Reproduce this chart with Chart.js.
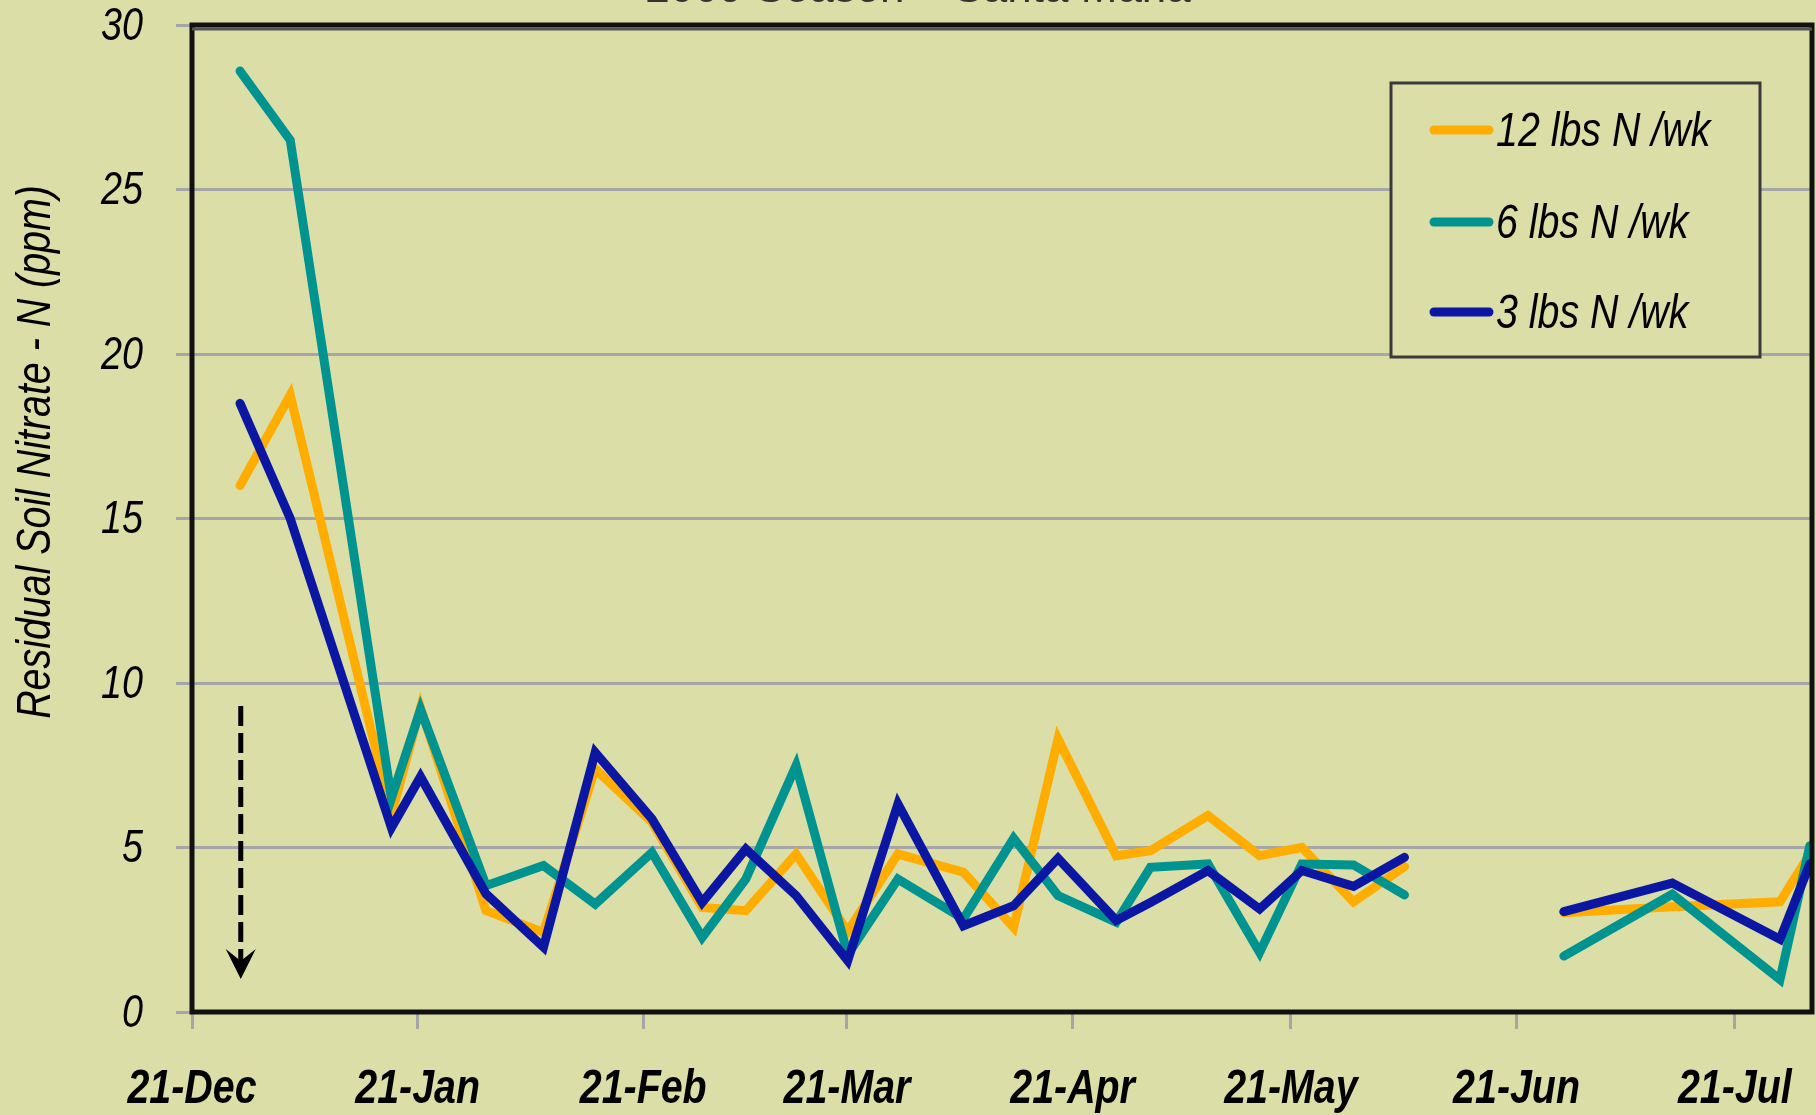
<!DOCTYPE html>
<html>
<head>
<meta charset="utf-8">
<title>Residual Soil Nitrate</title>
<script src="https://cdn.jsdelivr.net/npm/chart.js@4.4.1/dist/chart.umd.min.js"></script>
<style>
  html, body { margin:0; padding:0; background:#dbdea6; overflow:hidden; }
  #wrap { width:1816px; height:1115px; }
</style>
</head>
<body>
<div id="wrap"><canvas id="nitrateChart" width="1816" height="1115"></canvas></div>
<script>
// Residual soil nitrate - weekly samples, x = days after 21-Dec
const sampleDays = [6.6, 13.5, 27.4, 31.4, 40.4, 48.3, 55.4, 63.2, 70.1, 76.1, 83.0, 90.1,
                    97.0, 106.0, 112.9, 119.0, 127.0, 131.7, 139.6, 146.7, 152.5, 159.6, 166.6,
                    177.0, 188.5, 203.4, 218.2, 222.3];
const n12lbs = [16.0, 18.75, 6.0, 9.25, 3.08, 2.42, 7.39, 5.77, 3.18, 3.08, 4.80, 2.45,
                4.80, 4.25, 2.57, 8.30, 4.75, 4.90, 5.97, 4.75, 5.0, 3.35, 4.42,
                null, 3.02, 3.20, 3.35, 4.8];
const n6lbs  = [28.6, 26.5, 6.5, 9.2, 3.84, 4.45, 3.28, 4.85, 2.27, 4.04, 7.49, 1.75,
                4.04, 2.83, 5.28, 3.54, 2.73, 4.40, 4.50, 1.81, 4.50, 4.47, 3.56,
                null, 1.70, 3.58, 0.99, 5.05];
const n3lbs  = [18.5, 15.0, 5.6, 7.15, 3.59, 1.97, 7.89, 5.87, 3.33, 4.95, 3.54, 1.56,
                6.32, 2.62, 3.23, 4.67, 2.78, 3.33, 4.30, 3.13, 4.30, 3.82, 4.70,
                null, 3.05, 3.92, 2.21, 4.5];

const seriesNames  = ["12 lbs N /wk", "6 lbs N /wk", "3 lbs N /wk"];
const seriesColors = ["#ffad00", "#00938f", "#0b17a3"];

const tickDays   = [0, 31, 62, 90, 121, 151, 182, 212];
const tickLabels = ["21-Dec", "21-Jan", "21-Feb", "21-Mar", "21-Apr", "21-May", "21-Jun", "21-Jul"];
const yTicks     = [0, 5, 10, 15, 20, 25, 30];

// dashed arrow (start of treatments)
const arrowDay = 6.7, arrowTop = 9.3, arrowTip = 1.0;

const chartTitle = "2009 Season \u2013 Santa Maria";
const yTitle     = "Residual Soil Nitrate - N (ppm)";

// no Arial Narrow here: squeeze Liberation Sans instead
const SANS = '"Liberation Sans", Arial, sans-serif';
const SQUEEZE = 0.82;

function toPoints(vals) {
    return sampleDays.map((d, i) => ({ x: d, y: vals[i] }));
}

function narrowText(ctx, text, x, y, align, font) {
    ctx.save();
    ctx.font = font;
    ctx.translate(x, y);
    ctx.scale(SQUEEZE, 1);
    ctx.textAlign = align;
    ctx.textBaseline = "middle";
    ctx.fillStyle = "#000";
    ctx.fillText(text, 0, 0);
    ctx.restore();
}

// ── frame, arrow, labels, legend, titles ─────────────────────────────────
const decorPlugin = {
    id: "decor",
    afterDatasetsDraw(chart) {
        const { ctx, scales } = chart;
        const x  = scales.x.getPixelForValue(arrowDay);
        const y1 = scales.y.getPixelForValue(arrowTop);
        const y2 = scales.y.getPixelForValue(arrowTip);
        ctx.save();
        ctx.strokeStyle = "#000";
        ctx.lineWidth = 5;
        ctx.setLineDash([20, 7]);
        ctx.beginPath();
        ctx.moveTo(x, y1);
        ctx.lineTo(x, y2 - 16);
        ctx.stroke();
        ctx.setLineDash([]);
        ctx.fillStyle = "#000";
        ctx.beginPath();
        ctx.moveTo(x, y2);
        ctx.lineTo(x - 15, y2 - 30);
        ctx.lineTo(x, y2 - 18);
        ctx.lineTo(x + 15, y2 - 30);
        ctx.closePath();
        ctx.fill();
        ctx.restore();
    },
    afterDraw(chart) {
        const { ctx, chartArea: a, scales } = chart;
        ctx.save();
        // plot frame
        ctx.strokeStyle = "#111";
        ctx.lineWidth = 5;
        ctx.strokeRect(a.left, a.top, a.right - a.left, a.bottom - a.top);
        ctx.lineWidth = 3;
        ctx.strokeStyle = "#555";
        ctx.beginPath();
        ctx.moveTo(a.left, a.top + 4);
        ctx.lineTo(a.right, a.top + 4);
        ctx.stroke();
        ctx.restore();

        // tick labels
        tickDays.forEach((d, i) => {
            narrowText(ctx, tickLabels[i], scales.x.getPixelForValue(d), 1090, "center",
                       "italic bold 48px " + SANS);
        });
        yTicks.forEach(v => {
            narrowText(ctx, String(v), 143, scales.y.getPixelForValue(v) + 2, "right",
                       "italic 46px " + SANS);
        });

        // legend box
        ctx.save();
        const bx = 1391, by = 83, bw = 369, bh = 274;
        ctx.fillStyle = "#dbdea6";
        ctx.fillRect(bx, by, bw, bh);
        ctx.strokeStyle = "#3a3a3a";
        ctx.lineWidth = 3;
        ctx.strokeRect(bx, by, bw, bh);
        const rows = [130, 222, 312];
        chart.data.datasets.forEach((ds, i) => {
            ctx.strokeStyle = ds.borderColor;
            ctx.lineWidth = 9;
            ctx.lineCap = "round";
            ctx.beginPath();
            ctx.moveTo(1434, rows[i]);
            ctx.lineTo(1489, rows[i]);
            ctx.stroke();
            narrowText(ctx, ds.label, 1496, rows[i] + 3, "left", "italic 48px " + SANS);
        });

        // chart title, mostly cut off at the top
        ctx.font = "44px " + SANS;
        ctx.fillStyle = "#333";
        ctx.textAlign = "center";
        ctx.textBaseline = "alphabetic";
        ctx.fillText(chartTitle, 918, 2);

        // y axis title
        ctx.translate(37, 452);
        ctx.rotate(-Math.PI / 2);
        narrowText(ctx, yTitle, 0, 0, "center", "italic 48px " + SANS);
        ctx.restore();
    }
};

new Chart(document.getElementById("nitrateChart"), {
    type: "line",
    data: {
        datasets: [
            { label: seriesNames[0], data: toPoints(n12lbs), borderColor: seriesColors[0], order: 3 },
            { label: seriesNames[1], data: toPoints(n6lbs),  borderColor: seriesColors[1], order: 2 },
            { label: seriesNames[2], data: toPoints(n3lbs),  borderColor: seriesColors[2], order: 1 },
        ],
    },
    options: {
        responsive: false,
        devicePixelRatio: 1,
        animation: false,
        spanGaps: false,
        layout: { padding: { top: 25, right: 4, left: 0, bottom: 0 } },
        elements: {
            line: { borderWidth: 9, tension: 0, fill: false, borderJoinStyle: "miter", borderCapStyle: "round" },
            point: { radius: 0, hoverRadius: 0 },
        },
        plugins: { legend: { display: false }, tooltip: { enabled: false } },
        scales: {
            x: {
                type: "linear", min: 0, max: 222.6,
                afterFit: s => { s.height = 103; },
                afterBuildTicks: s => { s.ticks = tickDays.map(v => ({ value: v })); },
                grid: { drawOnChartArea: false, drawTicks: true, tickLength: 17, color: "#a6a6a6", lineWidth: 3 },
                border: { display: false },
                ticks: { display: false, autoSkip: false, maxRotation: 0 },
            },
            y: {
                min: 0, max: 30,
                afterFit: s => { s.width = 192; },
                afterBuildTicks: s => { s.ticks = yTicks.map(v => ({ value: v })); },
                grid: { color: "#a6a6a6", lineWidth: 3, tickLength: 16 },
                border: { display: false },
                ticks: { display: false },
            },
        },
    },
    plugins: [decorPlugin],
});
</script>
</body>
</html>
